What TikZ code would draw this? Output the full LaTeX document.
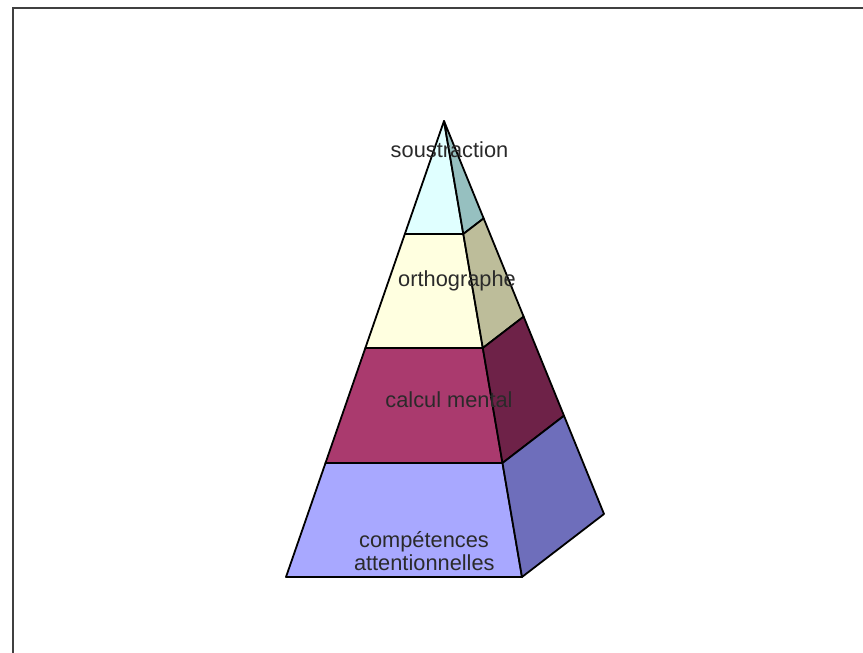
\documentclass[tikz,border=0pt]{standalone}
\usepackage{fontspec}
\setmainfont{Liberation Sans}
\usetikzlibrary{calc}
\definecolor{f1}{HTML}{E0FFFF}
\definecolor{s1}{HTML}{96C0C0}
\definecolor{f2}{HTML}{FFFFE0}
\definecolor{s2}{HTML}{BDBD9A}
\definecolor{f3}{HTML}{AA3A6E}
\definecolor{s3}{HTML}{6E2248}
\definecolor{f4}{HTML}{A8A8FF}
\definecolor{s4}{HTML}{6E6EBB}
\definecolor{txt}{HTML}{2A2A2A}
\begin{document}
\begin{tikzpicture}[x=1pt,y=-1pt,
  face/.style={draw=black,line width=1.8pt,line join=round},
  lbl/.style={text=txt,font=\fontsize{21.8}{24}\selectfont,anchor=base,inner sep=0pt}]
\useasboundingbox (0,0) rectangle (863,653);
\fill[white] (0,0) rectangle (863,653);
\draw[line width=2pt,draw=black!75] (13,653) -- (13,8) -- (863,8);
% apex and base
\coordinate (A) at (444,121);
\coordinate (BL) at (286,577);
\coordinate (BF) at (522,577);
\coordinate (BR) at (604,514);
% layer boundaries
\foreach \i/\t in {1/0.2478,2/0.4978,3/0.75}{
  \coordinate (L\i) at ($(A)!\t!(BL)$);
  \coordinate (F\i) at ($(A)!\t!(BF)$);
  \coordinate (R\i) at ($(A)!\t!(BR)$);
}
% top layer
\filldraw[face,fill=f1] (A) -- (L1) -- (F1) -- cycle;
\filldraw[face,fill=s1] (A) -- (F1) -- (R1) -- cycle;
% second
\filldraw[face,fill=f2] (L1) -- (L2) -- (F2) -- (F1) -- cycle;
\filldraw[face,fill=s2] (F1) -- (F2) -- (R2) -- (R1) -- cycle;
% third
\filldraw[face,fill=f3] (L2) -- (L3) -- (F3) -- (F2) -- cycle;
\filldraw[face,fill=s3] (F2) -- (F3) -- (R3) -- (R2) -- cycle;
% bottom
\filldraw[face,fill=f4] (L3) -- (BL) -- (BF) -- (F3) -- cycle;
\filldraw[face,fill=s4] (F3) -- (BF) -- (BR) -- (R3) -- cycle;
% labels
\node[lbl] (t1) at (449.5,157) {soustraction};
\node[lbl] (t2) at (457,286.5) {orthographe};
\node[lbl] (t3) at (449,407) {calcul mental};
\node[lbl] (t4a) at (424,547.5) {compétences};
\node[lbl] (t4b) at (424.3,570.5) {attentionnelles};
\end{tikzpicture}
\end{document}
